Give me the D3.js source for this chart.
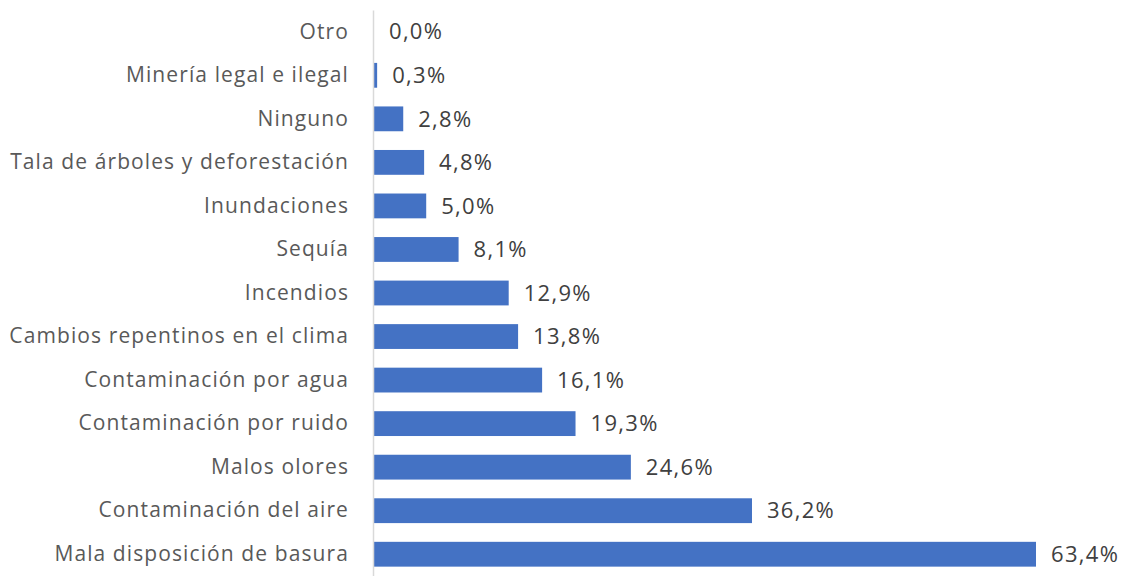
<!DOCTYPE html>
<html>
<head>
<meta charset="utf-8">
<script src="https://cdn.jsdelivr.net/npm/d3@7"></script>
<style>
  body { margin: 0; background: #fff; }
  svg text { font-family: "Open Sans", "Noto Sans", sans-serif; }
</style>
</head>
<body>
<div id="chart"></div>
<script>
const categories = [
  "Otro",
  "Minería legal e ilegal",
  "Ninguno",
  "Tala de árboles y deforestación",
  "Inundaciones",
  "Sequía",
  "Incendios",
  "Cambios repentinos en el clima",
  "Contaminación por agua",
  "Contaminación por ruido",
  "Malos olores",
  "Contaminación del aire",
  "Mala disposición de basura"
];
const values = [0.0, 0.3, 2.8, 4.8, 5.0, 8.1, 12.9, 13.8, 16.1, 19.3, 24.6, 36.2, 63.4];

const width = 1125, height = 576;
const margin = { top: 10, right: 89, bottom: 0, left: 374 };

const svg = d3.select("#chart")
  .append("svg")
  .attr("width", width)
  .attr("height", height);

const x = d3.scaleLinear()
  .domain([0, 63.4])
  .range([margin.left, width - margin.right]);

const y = d3.scaleBand()
  .domain(categories)
  .range([margin.top, height - margin.bottom])
  .paddingInner(0.43)
  .paddingOuter(0.215);

const data = categories.map((c, i) => ({ cat: c, value: values[i] }));

// bars
svg.append("g")
  .selectAll("rect")
  .data(data)
  .join("rect")
  .attr("x", x(0))
  .attr("y", (d) => y(d.cat))
  .attr("width", (d) => x(d.value) - x(0))
  .attr("height", y.bandwidth())
  .attr("fill", "#4472C4");

// axis
const yAxis = svg.append("g")
  .attr("transform", "translate(" + (margin.left - 1) + ",0)")
  .call(d3.axisLeft(y).tickSize(0).tickPadding(24));
yAxis.select(".domain").attr("stroke", "#d9d9d9").attr("stroke-width", 1.5);
yAxis.selectAll("text")
  .attr("fill", "#595959")
  .style("font-size", "21px")
  .style("letter-spacing", "1.1px");

// value labels
svg.append("g")
  .selectAll("text")
  .data(data)
  .join("text")
  .attr("x", (d) => x(d.value) + 15)
  .attr("y", (d) => y(d.cat) + y.bandwidth() / 2)
  .attr("dy", "0.35em")
  .attr("fill", "#404040")
  .style("font-size", "22px")
  .style("letter-spacing", "1.3px")
  .text((d) => d.value.toFixed(1).replace(".", ",") + "%");
</script>
</body>
</html>
